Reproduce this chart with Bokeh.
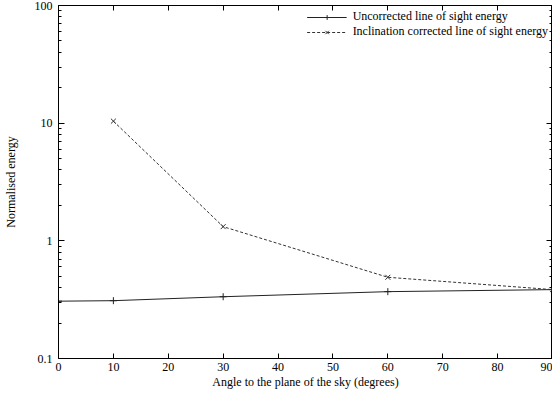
from bokeh.plotting import figure
from bokeh.models import (Range1d, FixedTicker, LinearAxis, LogAxis, Legend, LegendItem,
                          CustomJSTickFormatter)
from bokeh.embed import file_html
from bokeh.resources import INLINE

# data
angles_uncorr = [0, 10, 30, 60, 90]
energy_uncorr = [0.307, 0.31, 0.335, 0.37, 0.385]
angles_corr = [10, 30, 60, 90]
energy_corr = [10.4, 1.32, 0.49, 0.385]

x_ticks = [0, 10, 20, 30, 40, 50, 60, 70, 80, 90]
y_major = [0.1, 1, 10, 100]
y_labels = {0.1: "0.1", 1: "1", 10: "10", 100: "100"}
y_minor = [m * d for d in (0.1, 1, 10) for m in range(2, 10)]

FONT = "Liberation Serif"

p = figure(width=552, height=391, y_axis_type="log",
           x_range=Range1d(0, 90), y_range=Range1d(0.1, 100),
           output_backend="svg", toolbar_location=None,
           min_border_left=58, min_border_right=0, min_border_top=5, min_border_bottom=33,
           x_axis_label="Angle to the plane of the sky (degrees)",
           y_axis_label="Normalised energy")
p.grid.visible = False
p.outline_line_color = "black"
p.outline_line_width = 1
p.background_fill_color = "white"
p.border_fill_color = "white"

xt = FixedTicker(ticks=x_ticks)
yt = FixedTicker(ticks=y_major, minor_ticks=y_minor)

def style(ax):
    ax.axis_line_color = "black"
    ax.major_tick_in = 5
    ax.major_tick_out = 0
    ax.minor_tick_in = 3
    ax.minor_tick_out = 0
    ax.major_tick_line_color = "black"
    ax.minor_tick_line_color = "black"
    ax.major_label_text_font = FONT
    ax.major_label_text_font_size = "12px"
    ax.major_label_text_color = "black"
    ax.axis_label_text_font = FONT
    ax.axis_label_text_font_size = "12px"
    ax.axis_label_text_font_style = "normal"
    ax.axis_label_text_color = "black"

xa = p.xaxis[0]
xa.ticker = xt
style(xa)
xa.major_label_standoff = 4
xa.axis_label_standoff = 1

ya = p.yaxis[0]
ya.ticker = yt
style(ya)
ya.major_tick_in = 6
ya.major_label_overrides = y_labels
ya.major_label_standoff = 6
ya.axis_label_standoff = 14

blank = CustomJSTickFormatter(code="return ''")

top = LinearAxis(ticker=xt, formatter=blank)
style(top)
top.major_label_standoff = 0
p.add_layout(top, "above")

right = LogAxis(ticker=yt, formatter=blank)
style(right)
right.major_tick_in = 6
right.major_label_standoff = 0
p.add_layout(right, "right")

r1 = p.line(angles_uncorr, energy_uncorr, line_color="#222222", line_width=1)
m1 = p.scatter(angles_uncorr, energy_uncorr, marker="cross", size=7, line_color="#222222")
r2 = p.line(angles_corr, energy_corr, line_color="#333333", line_width=1, line_dash="3 2")
m2 = p.scatter(angles_corr, energy_corr, marker="x", size=7, line_color="#333333")

legend = Legend(items=[
    LegendItem(label="Uncorrected line of sight energy", renderers=[r1, m1]),
    LegendItem(label="Inclination corrected line of sight energy", renderers=[r2, m2]),
], location="top_right")
legend.border_line_color = None
legend.background_fill_alpha = 0
legend.label_text_font = FONT
legend.label_text_font_size = "12px"
legend.label_text_color = "black"
legend.spacing = 0
legend.padding = 2
legend.margin = 4
legend.glyph_width = 40
legend.glyph_height = 12
legend.label_height = 12
legend.label_standoff = 6
p.add_layout(legend)

open("out.html", "w").write(file_html(p, INLINE))
